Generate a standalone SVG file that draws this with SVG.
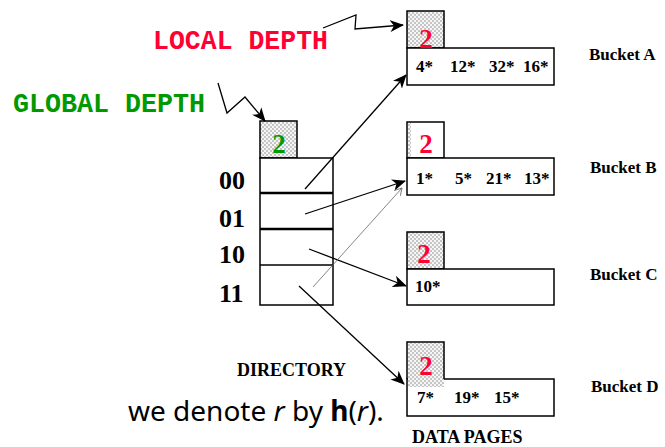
<svg xmlns="http://www.w3.org/2000/svg" width="665" height="447" viewBox="0 0 665 447">
  <defs>
    <pattern id="dots" width="4" height="4" patternUnits="userSpaceOnUse">
      <rect width="4" height="4" fill="#f6f6f6"/>
      <rect x="0.5" y="0.5" width="1" height="1" fill="#333"/>
      <rect x="2.5" y="2.5" width="1" height="1" fill="#333"/>
    </pattern>
    <marker id="head" viewBox="0 0 14 12" refX="13" refY="6" markerWidth="14" markerHeight="12" markerUnits="userSpaceOnUse" orient="auto">
      <path d="M0,0 L14,6 L0,12 L4,6 z" fill="#000"/>
    </marker>
    <marker id="thinhead" viewBox="0 0 8 8" refX="7" refY="4" markerWidth="8" markerHeight="8" markerUnits="userSpaceOnUse" orient="auto">
      <path d="M0,0 L7,4 L0,8" fill="none" stroke="#666" stroke-width="0.8"/>
    </marker>
  </defs>
  <style>
    .box { fill: #fff; stroke: #000; stroke-width: 1.5; }
    .depthbox { fill: url(#dots); stroke: #000; stroke-width: 1.5; }
    .serif { font-family: "Liberation Serif", "Times New Roman", serif; font-weight: bold; fill: #000; }
    .entry { font-size: 17px; }
    .blabel { font-size: 17px; }
    .caption { font-size: 18px; }
    .rowlab { font-size: 26px; }
    .num { font-size: 27px; text-anchor: middle; }
    .red { fill: #ff0033; }
    .green { fill: #009900; }
    .mono { font-family: "Liberation Mono", "Courier New", monospace; font-weight: bold; font-size: 27px; }
    .conn { fill: none; stroke: #000; stroke-width: 1.3; }
    .zig { fill: none; stroke: #000; stroke-width: 1.3; }
  </style>

  <!-- labels with zig-zag pointers -->
  <g id="local-depth-label">
    <text class="mono red" x="153" y="49" textLength="175" lengthAdjust="spacingAndGlyphs">LOCAL DEPTH</text>
  </g>
  <g id="global-depth-label">
    <text class="mono green" x="13" y="112" textLength="192" lengthAdjust="spacingAndGlyphs">GLOBAL DEPTH</text>
  </g>

  <!-- directory -->
  <g id="directory">
    <rect class="depthbox" x="260" y="121" width="37" height="37"/>
    <text class="serif num green" x="279" y="153">2</text>
    <rect class="box" x="260" y="158" width="73" height="147"/>
    <line x1="260" y1="193" x2="333" y2="193" stroke="#000" stroke-width="2.5"/>
    <line x1="260" y1="229" x2="333" y2="229" stroke="#000" stroke-width="2.5"/>
    <line x1="260" y1="265" x2="333" y2="265" stroke="#000" stroke-width="1.5"/>
    <text class="serif rowlab" x="219" y="189">00</text>
    <text class="serif rowlab" x="219" y="227">01</text>
    <text class="serif rowlab" x="219" y="263">10</text>
    <text class="serif rowlab" x="219" y="302">11</text>
    <text class="serif caption" x="237" y="376">DIRECTORY</text>
  </g>

  <!-- bucket A -->
  <g id="bucket-a">
    <rect class="depthbox" x="407" y="11" width="37" height="37"/>
    <rect class="box" x="407" y="48" width="147" height="37"/>
    <text class="serif num red" x="426" y="48">2</text>
    <text class="serif entry" x="416" y="72">4*</text>
    <text class="serif entry" x="450" y="72">12*</text>
    <text class="serif entry" x="489" y="72">32*</text>
    <text class="serif entry" x="523" y="72">16*</text>
    <text class="serif blabel" x="589" y="60">Bucket A</text>
  </g>

  <!-- bucket B -->
  <g id="bucket-b">
    <rect class="box" x="407" y="122" width="37" height="36"/>
    <rect x="408" y="123" width="3" height="34" fill="url(#dots)"/>
    <rect class="box" x="407" y="158" width="147" height="37"/>
    <text class="serif num red" x="426" y="153">2</text>
    <text class="serif entry" x="416" y="184">1*</text>
    <text class="serif entry" x="455" y="184">5*</text>
    <text class="serif entry" x="486" y="184">21*</text>
    <text class="serif entry" x="524" y="184">13*</text>
    <text class="serif blabel" x="590" y="173">Bucket B</text>
  </g>

  <!-- bucket C -->
  <g id="bucket-c">
    <rect class="depthbox" x="407" y="232" width="37" height="37"/>
    <rect class="box" x="407" y="269" width="147" height="36"/>
    <text class="serif num red" x="424" y="263">2</text>
    <text class="serif entry" x="415" y="292">10*</text>
    <text class="serif blabel" x="590" y="280">Bucket C</text>
  </g>

  <!-- bucket D: depth patch overlaps the page's top edge -->
  <g id="bucket-d">
    <rect class="box" x="407" y="379" width="147" height="37"/>
    <rect x="408" y="343" width="36" height="44" fill="url(#dots)"/>
    <path d="M407,379 V342 H444 V379" fill="none" stroke="#000" stroke-width="1.5"/>
    <text class="serif num red" x="426" y="375">2</text>
    <text class="serif entry" x="417" y="403">7*</text>
    <text class="serif entry" x="454" y="403">19*</text>
    <text class="serif entry" x="494" y="403">15*</text>
    <text class="serif blabel" x="591" y="392">Bucket D</text>
    <text class="serif caption" x="412" y="443">DATA PAGES</text>
  </g>

  <!-- footnote -->
  <g id="note">
    <text x="128" y="421" font-family="Noto Sans, DejaVu Sans, sans-serif" font-size="28" fill="#000">we denote <tspan font-style="italic">r</tspan> by <tspan font-weight="bold">h</tspan>(<tspan font-style="italic">r</tspan>).</text>
  </g>

  <!-- connectors -->
  <g id="connectors">
    <polyline class="zig" points="323,28 356,15 355,29 403,25" marker-end="url(#head)"/>
    <polyline class="zig" points="218,83 227,113 245,97 265,121" marker-end="url(#head)"/>
    <line class="conn" x1="305" y1="189" x2="406" y2="75" marker-end="url(#head)"/>
    <line class="conn" x1="305" y1="214" x2="405" y2="181" marker-end="url(#head)"/>
    <line class="conn" x1="309" y1="249" x2="406" y2="286" marker-end="url(#head)"/>
    <line x1="313" y1="287" x2="402" y2="188" stroke="#666" stroke-width="0.8" marker-end="url(#thinhead)"/>
    <line class="conn" x1="299" y1="286" x2="404" y2="384" marker-end="url(#head)"/>
  </g>
</svg>
